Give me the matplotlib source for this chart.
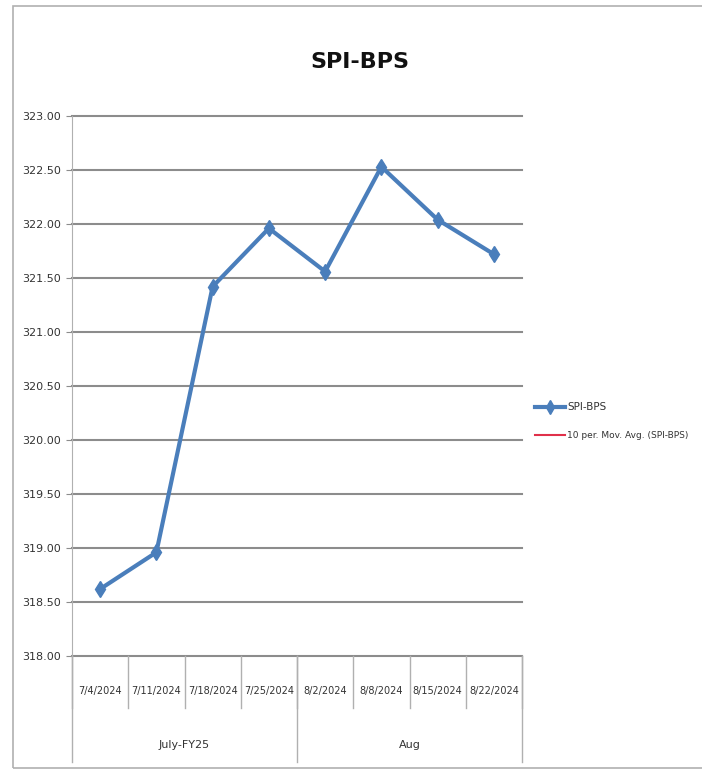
import matplotlib
matplotlib.use("Agg")
import matplotlib.pyplot as plt
from matplotlib.lines import Line2D
from matplotlib.patches import Rectangle

plt.rcParams['font.family'] = ['DejaVu Sans']

dates = ["7/4/2024", "7/11/2024", "7/18/2024", "7/25/2024",
         "8/2/2024", "8/8/2024", "8/15/2024", "8/22/2024"]
values = [318.62, 318.96, 321.42, 321.96, 321.56, 322.53, 322.04, 321.72]
groups = ["July-FY25", "Aug"]
group_sizes = [4, 4]
yticks = [318.00, 318.50, 319.00, 319.50, 320.00, 320.50, 321.00,
          321.50, 322.00, 322.50, 323.00]
series_name = "SPI-BPS"
ma_name = "10 per. Mov. Avg. (SPI-BPS)"

W, H = 702, 770
fig = plt.figure(figsize=(W / 100, H / 100), dpi=100)

# chart frame
fig.patches.append(Rectangle((13 / W, 1 - 768 / H), 1.2, (768 - 6) / H,
                             transform=fig.transFigure, fill=False,
                             edgecolor='#b0b0b0', lw=1.2))

L, R, T, B = 72, 522, 116, 656
ax = fig.add_axes([L / W, 1 - B / H, (R - L) / W, (B - T) / H])
n = len(dates)
xs = [i + 0.5 for i in range(n)]
ax.plot(xs, values, color='#4A7EBB', lw=3, marker='d', markersize=8,
        markeredgewidth=1, zorder=3)
ax.set_xlim(0, n)
ax.set_ylim(yticks[0], yticks[-1])
ax.set_yticks(yticks)
ax.set_yticklabels([f"{v:.2f}" for v in yticks], fontsize=8, color='#333333')
ax.yaxis.grid(True, color='#8c8c8c', lw=1.5)
for gl in ax.get_ygridlines():
    gl.set_clip_on(False)
ax.set_axisbelow(True)
ax.tick_params(axis='y', length=4, color='#8c8c8c', pad=4)
for s in ['top', 'right', 'bottom']:
    ax.spines[s].set_visible(False)
ax.spines['left'].set_color('#b0b0b0')
ax.set_xticks([])

# two-level category axis
def xf(x):
    return (L + (R - L) * x / n) / W

def yf(py):
    return 1 - py / H

for i in range(n + 1):
    fig.add_artist(Line2D([xf(i), xf(i)], [yf(B), yf(708)], color='#b0b0b0', lw=1))
for i, d in enumerate(dates):
    fig.text(xf(i + 0.5), yf(691), d, ha='center', va='center', fontsize=7,
             color='#333333')
pos = 0
fig.add_artist(Line2D([xf(0), xf(0)], [yf(B), yf(762)], color='#b0b0b0', lw=1))
for g, sz in zip(groups, group_sizes):
    fig.add_artist(Line2D([xf(pos + sz), xf(pos + sz)], [yf(B), yf(762)],
                          color='#b0b0b0', lw=1))
    fig.text(xf(pos + sz / 2), yf(745), g, ha='center', va='center',
             fontsize=8, color='#333333')
    pos += sz

fig.text(360 / W, yf(62), series_name, ha='center', va='center',
         fontsize=16, fontweight='bold', color='#111111')

# legend
fig.add_artist(Line2D([535 / W, 550 / W, 565 / W], [yf(407)] * 3,
                      color='#4A7EBB', lw=3, marker='d', markersize=7,
                      markevery=[1], markeredgewidth=1))
fig.text(567 / W, yf(407), series_name, ha='left', va='center', fontsize=7.5,
         color='#333333')
fig.add_artist(Line2D([535 / W, 565 / W], [yf(435), yf(435)], color='#e0304a', lw=1.5))
fig.text(567 / W, yf(435), ma_name, ha='left', va='center', fontsize=6.5,
         color='#333333')

fig.savefig("out.png", dpi=100)
